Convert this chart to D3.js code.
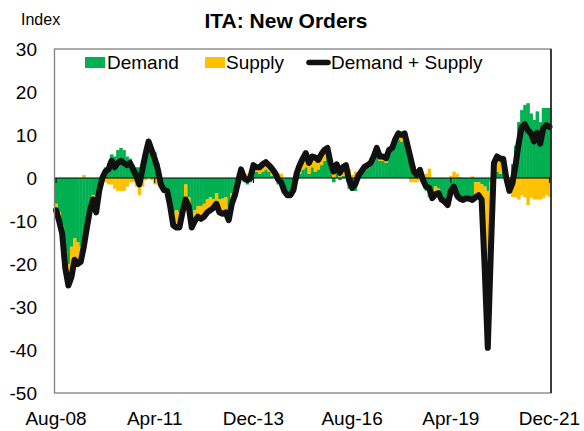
<!DOCTYPE html>
<head>
    <meta charset="utf-8">
    <script src="https://d3js.org/d3.v7.min.js"></script>
    <style>
        body { margin: 0; background: #fff; }
        text { font-family: "Liberation Sans", Arial, sans-serif; fill: #000; }
    </style>
</head>
<body>
<script>
    const width = 584,
        height = 431,
        plotLeft = 54.5, plotRight = 551, plotTop = 49, plotBottom = 393;

    // monthly categories Aug-08 .. Dec-21
    const months = d3.timeMonths(new Date(2008, 7, 1), new Date(2022, 0, 1));
    const fmt = d3.timeFormat("%b-%y");
    const tickLabels = ["Aug-08", "Apr-11", "Dec-13", "Aug-16", "Apr-19", "Dec-21"];
    const yTicks = [30, 20, 10, 0, -10, -20, -30, -40, -50];

    const demand = [
        -6, -8, -11, -17, -20, -16, -14, -15, -16, -16.7, -10, -6.5, -4, -7, -2.5,
        1, 2.5, 3.5, 5.5, 5, 6.5, 7, 6.5, 5, 4.5, 3, 2.5, 2.5, 4, 6, 8.5, 7, 6, 3.5,
        -1, -2.3, -2.5, -5.5, -8, -7.5, -8, -6, -1.5, -4.5, -9, -7.5, -6.5, -6.5, -6, -5,
        -4.5, -5, -3.5, -5, -4.8, -4.5, -6.8, -3.5, -3,
        -2, 1, -1, -1.5, -1, 1.5, 1.5, 1, 1.5, 2, 1.5, 0.5, 0, -1.5, -2, -3, -3.5, -3.5, -2.5,
        -0.5, 1, 2, 2.5, 1, 2.5, 1.5, 2, 3, 4, 5, 2.5, -1, 1.5, -0.5, 0.5, 1, -2.5, -3, -3, -0.5,
        1, 2, 2.3, 3, 4.5, 6, 4, 4, 3.5, 5.5, 6.5, 8.5, 9, 8.5, 9.5, 7,
        5.5, 2.5, 1.7, 2.5, -1, -3, -4.5, -4, -2, -2.5, -4, -5, -6,
        -3.5, -3.5, -5, -5, -4.5, -4, -4.5, -5.5, -1, -1, -1.5, -2, -3, -1,
        1, 1.5, 1, 1.5, 0.5, 0, 3.2,
        7.5, 13, 15.8, 17, 17.4, 15, 13.5, 15.5, 13, 16.3, 16.3, 16.3
    ];
    const supply = [
        -1.5, -2, -2, -4, -5, -7, -5, -5, -3.5, 0.7, -1.5, -1, -1, -1, -0.5,
        -1, -1, -1.5, -1.5, -2.5, -3, -3, -3, -2, -1, -1, -2, -4, -2, -0.5, 0, -0.5, -1.5, -1.5,
        -0.5, -0.5, -0.5, -1, -3, -4, -3.5, -2, -3.5, -2, -2.5, -2.5, -2.5, -3, -3, -3,
        -3, -2, -2.5, -3, -3.5, -3.5, -3, -2.5, -1,
        1, 1, 1, 1, 1, 1.5, 1, 1.5, 1.7, 1.7, 1.5, 1.7, 1.2, 1.2, 1, 0, -0.5, -0.5, -0.3,
        1.5, 2, 2.5, 3.3, 2.5, 2.5, 3.3, 2.2, 2.5, 2.5, 2, 1, 2.5, 1.7, 1.7, 2, 2, 2, 0.7, 1.5, 1,
        0.5, 0.6, 0.7, 0.5, 0.5, 1, 1, 1, 1.1, 1, 0.5, 0.5, 1.4, 1.5, 0.9, 0.5,
        -1, -1, -1, -0.6, 0.5, 1, 2.2, -0.7, -1.8, -1, -1, -0.5, -0.3,
        0.5, 1.5, 1, 0.2, -0.6, -0.7, -0.3, 0.4, -3.5, -3, -3.5, -19, -36.5, -16,
        2.5, 3.5, 3.5, 3, -0.5, -3, -4.4,
        -4.5, -5, -4, -4.5, -6.3, -4.6, -5, -5, -5, -4.7, -4, -4.4
    ];

    const rows = months.map((m, i) => ({
        month: fmt(m),
        demand: demand[i],
        supply: supply[i],
        total: demand[i] + supply[i]
    }));

    const x = d3.scaleBand().domain(rows.map(d => d.month)).range([plotLeft, plotRight]).padding(0);
    const y = d3.scaleLinear().domain([-50, 30]).range([plotBottom, plotTop]);
    const color = { demand: "#00B050", supply: "#FFC000" };

    const svg = d3.select("body").append("svg")
        .attr("width", width)
        .attr("height", height);

    // bars
    const series = d3.stack().keys(["demand", "supply"]).offset(d3.stackOffsetDiverging)(rows);
    svg.append("g").selectAll("g").data(series).join("g")
        .attr("fill", s => color[s.key])
        .selectAll("rect").data(s => s).join("rect")
        .attr("x", d => x(d.data.month))
        .attr("width", x.bandwidth() + 0.4)
        .attr("y", d => y(Math.max(d[0], d[1])))
        .attr("height", d => Math.abs(y(d[0]) - y(d[1])));

    // zero line with small ticks
    svg.append("line")
        .attr("x1", plotLeft).attr("x2", plotRight)
        .attr("y1", y(0)).attr("y2", y(0))
        .attr("stroke", "#000").attr("stroke-width", 1);
    svg.append("g").selectAll("line").data(tickLabels).join("line")
        .attr("x1", d => x(d) + x.bandwidth() / 2).attr("x2", d => x(d) + x.bandwidth() / 2)
        .attr("y1", y(0)).attr("y2", y(0) + 5)
        .attr("stroke", "#000").attr("stroke-width", 1);

    // total line
    const line = d3.line()
        .x(d => x(d.month) + x.bandwidth() / 2)
        .y(d => y(d.total));
    svg.append("path")
        .datum(rows)
        .attr("fill", "none")
        .attr("stroke", "#111")
        .attr("stroke-width", 6)
        .attr("stroke-linejoin", "round")
        .attr("stroke-linecap", "round")
        .attr("d", line);

    // frame
    svg.append("rect")
        .attr("x", plotLeft).attr("y", plotTop)
        .attr("width", plotRight - plotLeft).attr("height", plotBottom - plotTop)
        .attr("fill", "none").attr("stroke", "#808080").attr("stroke-width", 1.3);
    svg.append("line")
        .attr("x1", plotRight).attr("x2", plotRight).attr("y1", plotTop).attr("y2", plotBottom)
        .attr("stroke", "#000").attr("stroke-width", 1.3);

    // y labels
    svg.append("g").selectAll("text").data(yTicks).join("text")
        .attr("x", 37)
        .attr("y", d => y(d) + 7)
        .attr("text-anchor", "end")
        .attr("font-size", 19)
        .text(d => d);

    // x labels
    svg.append("g").selectAll("text").data(tickLabels).join("text")
        .attr("x", d => x(d) + x.bandwidth() / 2)
        .attr("y", 425)
        .attr("text-anchor", "middle")
        .attr("font-size", 19)
        .text(d => d);

    // titles
    svg.append("text")
        .attr("x", 286).attr("y", 28)
        .attr("text-anchor", "middle")
        .attr("font-size", 21)
        .attr("font-weight", "bold")
        .text("ITA: New Orders");
    svg.append("text")
        .attr("x", 21).attr("y", 25)
        .attr("font-size", 16)
        .text("Index");

    // legend
    const lg = svg.append("g");
    lg.append("rect").attr("x", 85).attr("y", 57).attr("width", 20).attr("height", 11).attr("fill", color.demand);
    lg.append("text").attr("x", 107).attr("y", 69).attr("font-size", 19).text("Demand");
    lg.append("rect").attr("x", 205).attr("y", 57).attr("width", 20).attr("height", 11).attr("fill", color.supply);
    lg.append("text").attr("x", 226).attr("y", 69).attr("font-size", 19).text("Supply");
    lg.append("line").attr("x1", 309).attr("x2", 328).attr("y1", 62.5).attr("y2", 62.5)
        .attr("stroke", "#111").attr("stroke-width", 5.5).attr("stroke-linecap", "round");
    lg.append("text").attr("x", 331).attr("y", 69).attr("font-size", 19).text("Demand + Supply");
</script>
</body>
